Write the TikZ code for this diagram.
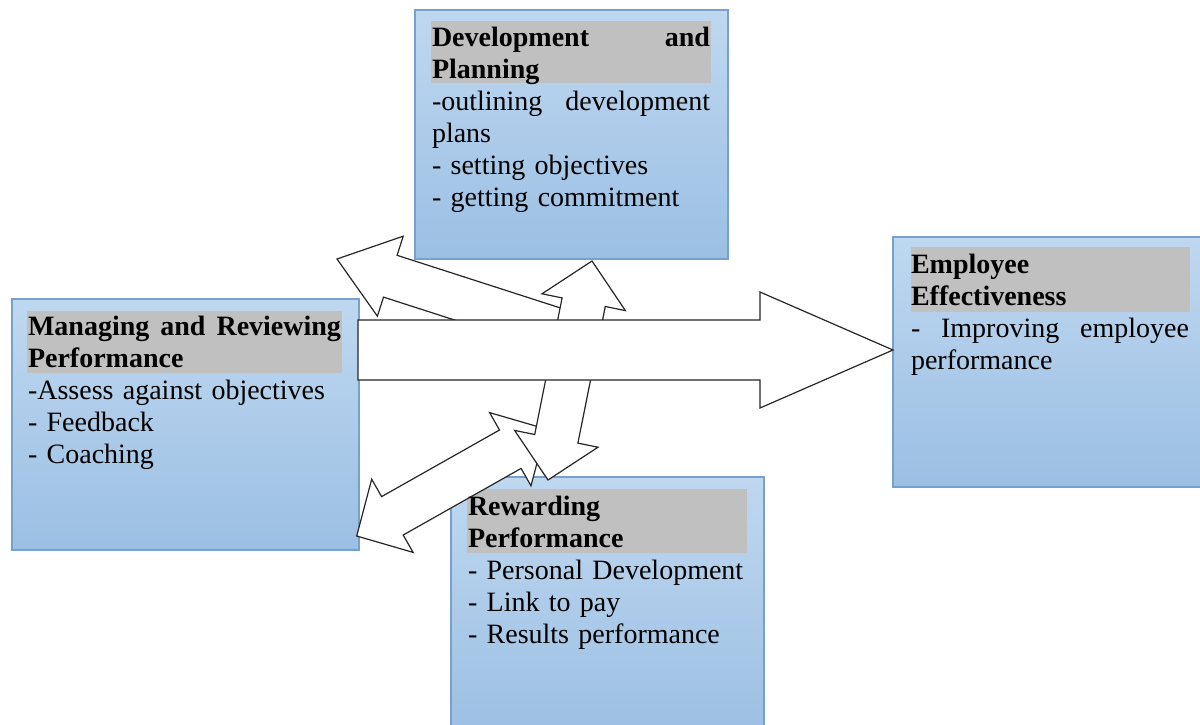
\documentclass[tikz,border=0pt]{standalone}
\usepackage{fontspec}
\setmainfont{Liberation Serif}
\definecolor{paneltop}{RGB}{191,216,240}
\definecolor{panelbot}{RGB}{155,191,227}
\definecolor{panelrim}{RGB}{118,160,206}
\definecolor{bandgrey}{RGB}{192,192,192}
\begin{document}
\begin{tikzpicture}[x=0.5pt,y=-0.5pt,
  panel/.style={draw=panelrim, line width=1.2pt, top color=paneltop, bottom color=panelbot,
    anchor=north west, inner sep=0pt, outer sep=0pt},
  band/.style={fill=bandgrey, anchor=north west, inner sep=0pt, outer sep=0pt},
  txt/.style={anchor=north west, inner sep=0pt, outer sep=0pt, align=left,
    font=\fontsize{14}{16}\selectfont, text=black},
  blockarrow/.style={fill=white, draw=black!85, line width=0.6pt, line join=miter}]
\useasboundingbox (0,0) rectangle (1200,724);

% panels
\node[panel, minimum width=156.5pt, minimum height=124.5pt] (dev) at (415,10) {};
\node[panel, minimum width=173.5pt, minimum height=125.5pt] (mgr) at (12,299) {};
\node[panel, minimum width=156pt, minimum height=125pt] (emp) at (893,237) {};
\node[panel, minimum width=156.5pt, minimum height=130pt] (rew) at (451,477) {};

% grey title bands
\node[band, minimum width=140pt, minimum height=31pt] (devh) at (431,21) {};
\node[band, minimum width=157.5pt, minimum height=31pt] (mgrh) at (27,311) {};
\node[band, minimum width=139.5pt, minimum height=32.5pt] (emph) at (911,247) {};
\node[band, minimum width=140pt, minimum height=32pt] (rewh) at (467,489) {};

% block arrows, back to front
\draw[blockarrow] (356.7,536) -- (413.1,552.4) -- (403.2,535.0) -- (521.1,468.4)
  -- (531.0,485.8) -- (546,429) -- (489.6,412.6) -- (499.5,430.0)
  -- (381.6,496.6) -- (371.7,479.2) -- cycle;
\draw[blockarrow] (337,259) -- (403.2,236.2) -- (397.1,255.3) -- (572.3,311.8)
  -- (558.7,353.6) -- (383.5,297.1) -- (377.4,316.2) -- cycle;
\draw[blockarrow] (592,261) -- (625.4,310.6) -- (605.3,306.5) -- (577.9,443.1)
  -- (598.0,447.2) -- (548,480) -- (514.6,430.4) -- (534.7,434.5)
  -- (562.1,297.9) -- (542.0,293.8) -- cycle;
\draw[blockarrow] (358,320) -- (760,320) -- (760,292) -- (893,350)
  -- (760,408) -- (760,380) -- (358,380) -- cycle;

% panel texts
\node[txt, text width=139pt] (devt) at (432,23.6) {\strut\textbf{Development\hfill and}\\
  \textbf{Planning}\\
  -outlining\hfill development\\
  plans\\
  - setting objectives\\
  - getting commitment};
\node[txt, text width=156.5pt] (mgrt) at (28,312.6) {\strut\textbf{Managing\hfill and\hfill Reviewing}\\
  \textbf{Performance}\\
  -Assess against objectives\\
  - Feedback\\
  - Coaching};
\node[txt, text width=139pt] (empt) at (911,250.6) {\strut\textbf{Employee}\\
  \textbf{Effectiveness}\\
  -\hfill Improving\hfill employee\\
  performance};
\node[txt, text width=139pt] (rewt) at (468,492.6) {\strut\textbf{Rewarding}\\
  \textbf{Performance}\\
  - Personal Development\\
  - Link to pay\\
  - Results performance};
\end{tikzpicture}
\end{document}
